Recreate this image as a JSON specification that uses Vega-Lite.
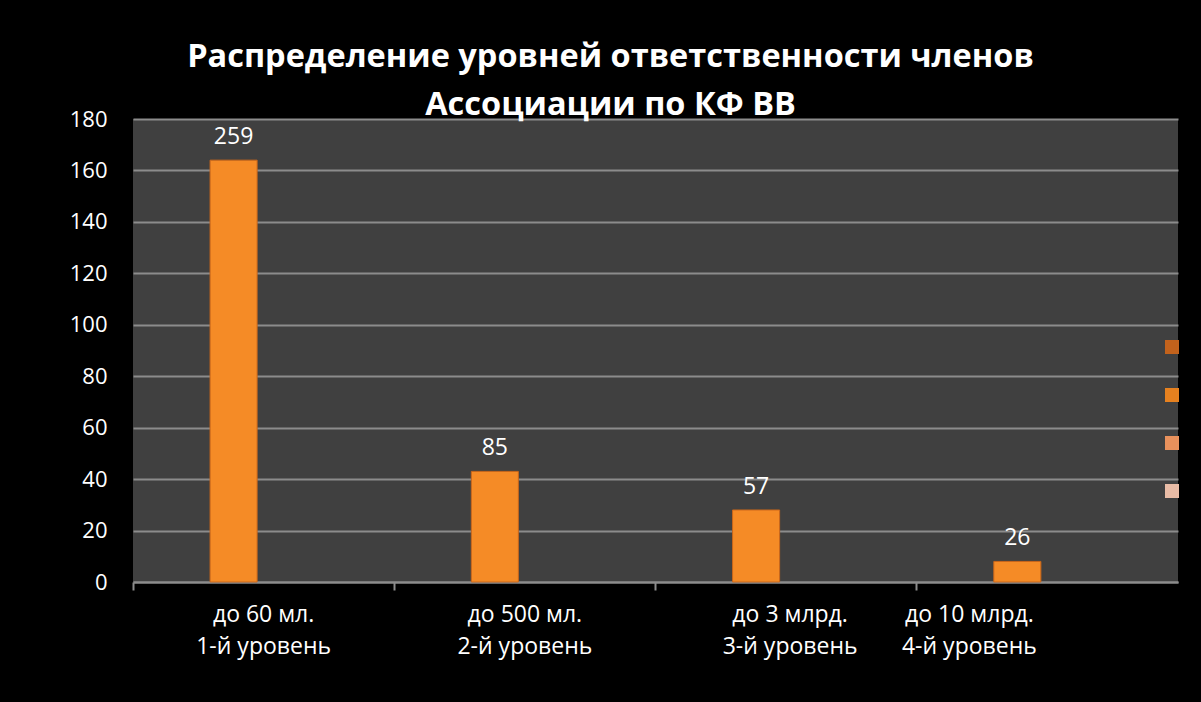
{
  "$schema": "https://vega.github.io/schema/vega-lite/v6.json",
  "width": 1045,
  "height": 463,
  "autosize": {"type": "none"},
  "padding": {"left": 133, "top": 119, "right": 23, "bottom": 120},
  "background": "#000000",
  "title": {
    "text": ["Распределение уровней ответственности членов", "Ассоциации по КФ ВВ"],
    "font": "Open Sans",
    "fontSize": 32.5,
    "fontWeight": "bold",
    "color": "#ffffff",
    "anchor": "middle",
    "dx": -45,
    "dy": 15,
    "lineHeight": 48,
    "offset": 2
  },
  "data": {
    "values": [
      {"cat": "до 60 мл.|1-й уровень", "value": 164, "label": "259", "ser": "Ряд1", "grp": "a"},
      {"cat": "до 500 мл.|2-й уровень", "value": 43, "label": "85", "ser": "Ряд2", "grp": "a"},
      {"cat": "до 3 млрд.|3-й уровень", "value": 28, "label": "57", "ser": "Ряд3", "grp": "a"},
      {"cat": "до 10 млрд.|4-й уровень", "value": 8, "label": "26", "ser": "Ряд4", "grp": "a"}
    ]
  },
  "encoding": {
    "x": {
      "field": "cat",
      "type": "nominal",
      "sort": null,
      "scale": {"paddingInner": 0, "paddingOuter": 0},
      "axis": {
        "title": null,
        "labelAngle": 0,
        "labelExpr": "split(datum.label, '|')",
        "labelFont": "Open Sans",
        "labelFontSize": 23,
        "labelColor": "#ffffff",
        "labelLineHeight": 32,
        "labelPadding": 13,
        "labelBaseline": "top",
        "labelOffset": {"condition": [{"test": "datum.value == 'до 10 млрд.|4-й уровень'", "value": -78}, {"test": "datum.value == 'до 3 млрд.|3-й уровень'", "value": 4}], "value": 0},
        "bandPosition": 0,
        "ticks": true,
        "tickSize": 8,
        "tickColor": "#8c8c8c",
        "tickWidth": 2,
        "domainColor": "#8c8c8c",
        "domainWidth": 2,
        "grid": false,
        "labelBound": false,
        "labelOverlap": false
      }
    },
    "xOffset": {
      "field": "grp",
      "type": "nominal",
      "scale": {"domain": ["z", "a", "b", "c"], "paddingInner": 0.2167, "paddingOuter": 0.283}
    },
    "y": {
      "field": "value",
      "type": "quantitative",
      "scale": {"domain": [0, 180], "nice": false},
      "axis": {
        "title": null,
        "values": [0, 20, 40, 60, 80, 100, 120, 140, 160, 180],
        "labelFont": "Open Sans",
        "labelFontSize": 22,
        "labelColor": "#ffffff",
        "labelPadding": 26,
        "ticks": false,
        "domain": false,
        "grid": true,
        "gridColor": "#8c8c8c",
        "gridWidth": 2
      }
    }
  },
  "layer": [
    {
      "mark": {"type": "bar", "color": "#f58b26", "stroke": "#c9661a", "strokeWidth": 1},
      "encoding": {}
    },
    {
      "mark": {"type": "text", "baseline": "alphabetic", "dy": -16, "font": "Open Sans", "fontSize": 23, "color": "#ffffff"},
      "encoding": {"text": {"field": "label"}}
    },
    {
      "mark": {"type": "square", "opacity": 0},
      "encoding": {
        "color": {
          "field": "ser",
          "type": "nominal",
          "scale": {"domain": ["Ряд1", "Ряд2", "Ряд3", "Ряд4"], "range": ["#c2621c", "#e6811f", "#e8915c", "#e9bca6"]},
          "legend": {
            "orient": "none",
            "legendX": 1032,
            "legendY": 221,
            "title": null,
            "labelExpr": "''",
            "labelFontSize": 1,
            "symbolType": "square",
            "symbolSize": 196,
            "symbolOpacity": 1,
            "symbolStrokeWidth": 0,
            "rowPadding": 34,
            "padding": 0,
            "labelOffset": 0
          }
        }
      }
    }
  ],
  "config": {
    "view": {"fill": "#404040", "stroke": null}
  }
}
